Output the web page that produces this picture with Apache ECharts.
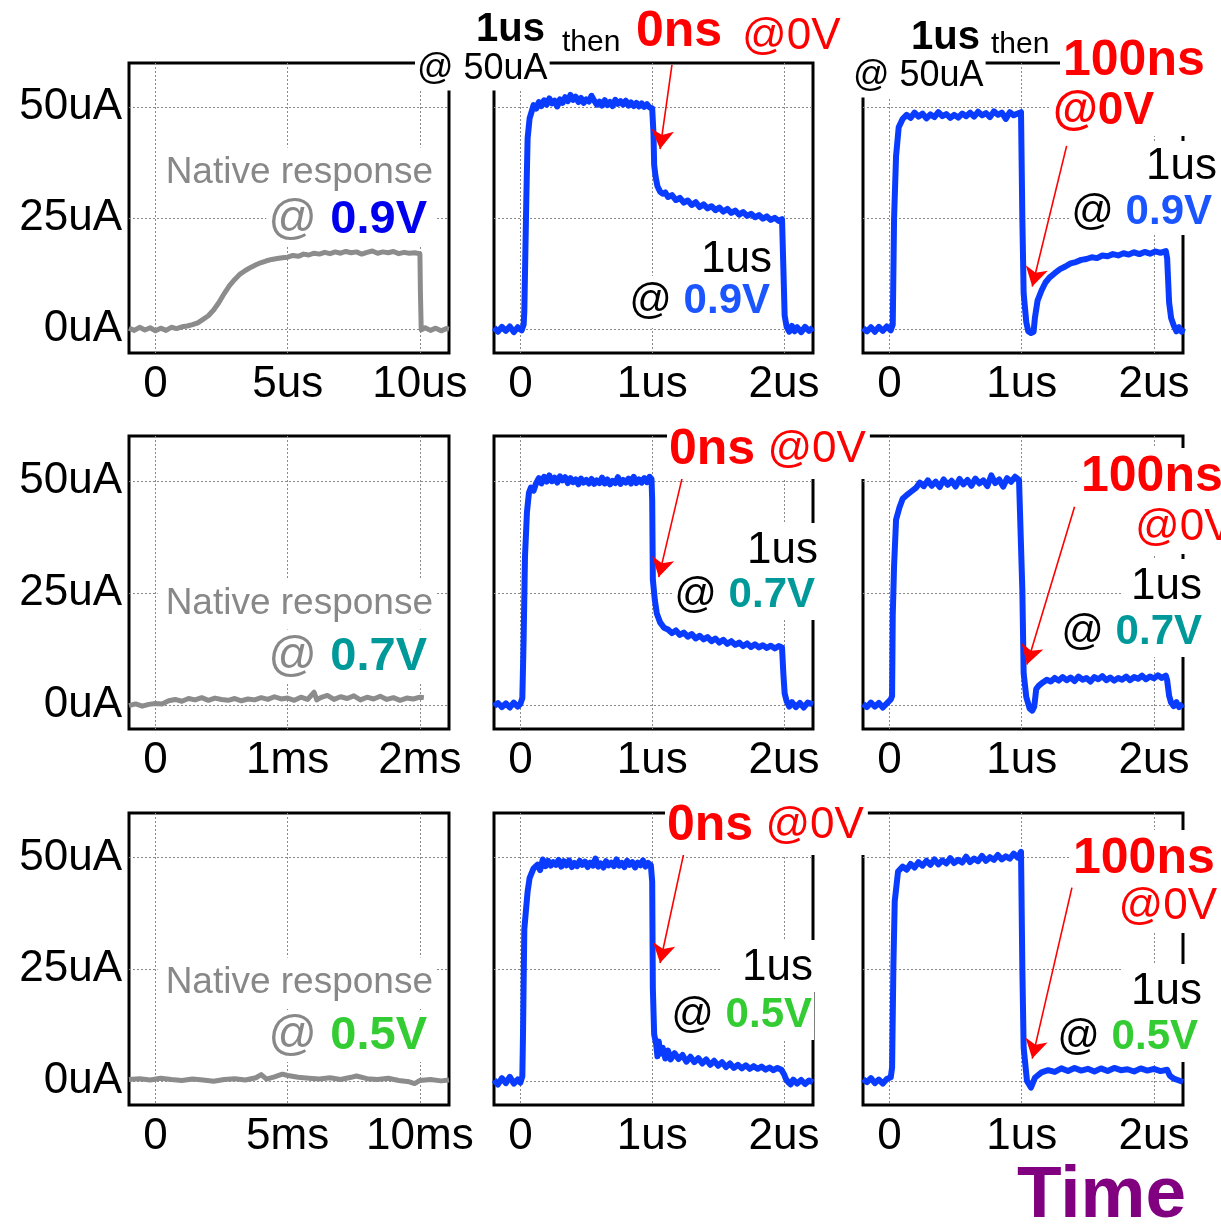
<!DOCTYPE html>
<html>
<head>
<meta charset="utf-8">
<script src="https://cdn.jsdelivr.net/npm/echarts@6/dist/echarts.min.js"></script>
<style>
  html, body { margin: 0; padding: 0; background: #fff; }
  #chart { width: 1221px; height: 1229px; }
</style>
</head>
<body>
<div id="chart"></div>
<script>
// ---------- tick values and labels ----------
const currentTicks = [0, 25, 50];
const currentTickLabels = ['0uA', '25uA', '50uA'];
const pulseTicks = [0, 1, 2];
const pulseTickLabels = ['0', '1us', '2us'];
const native09Ticks = [0, 5, 10];
const native09TickLabels = ['0', '5us', '10us'];
const native07Ticks = [0, 1, 2];
const native07TickLabels = ['0', '1ms', '2ms'];
const native05Ticks = [0, 5, 10];
const native05TickLabels = ['0', '5ms', '10ms'];

// ---------- measured current traces, [time, current uA] ----------
// native response at 0.9V (time in us)
const native09 = [[-1.0,0.2],[-0.8,-0.3],[-0.6,0.4],[-0.4,-0.2],[-0.2,0.3],[0,-0.4],[0.2,0.2],[0.4,-0.3],[0.6,0.4],[0.8,0.1],
  [1.0,0.5],[1.2,0.7],[1.4,1.0],[1.6,1.4],[1.8,2.2],[2.0,3.0],[2.2,4.3],[2.4,6.0],[2.6,8.0],[2.8,9.8],[3.0,11.2],[3.2,12.4],
  [3.4,13.2],[3.6,13.9],[3.8,14.5],[4.0,15.0],[4.2,15.4],[4.4,15.7],[4.6,15.9],[4.8,16.1],[5.0,16.2],[5.2,16.6],[5.4,16.4],
  [5.6,16.9],[5.8,16.7],[6.0,17.1],[6.2,16.9],[6.4,17.3],[6.6,17.0],[6.8,17.4],[7.0,17.1],[7.2,17.5],[7.4,17.2],[7.6,17.4],
  [7.8,16.9],[8.0,17.3],[8.2,17.6],[8.4,17.1],[8.6,17.4],[8.8,17.2],[9.0,17.5],[9.2,17.0],[9.4,17.3],[9.6,17.1],[9.8,17.2],
  [10.0,17.0],[10.02,8.0],[10.05,-0.2],[10.2,0.3],[10.4,-0.3],[10.6,0.2],[10.8,-0.4],[11.0,0.1],[11.1,0.0]];

// 1us @50uA, then 0ns @0V, then 1us @0.9V
const zero09 = [[-0.2,0.3],[-0.17,-0.6],[-0.14,0.5],[-0.11,-0.4],[-0.08,0.6],[-0.05,-0.7],[-0.02,0.4],[0.01,-0.3],[0.025,1.0],
  [0.03,4],[0.045,29],[0.055,43],[0.07,47.5],[0.085,49],[0.1,50.5],[0.12,49.7],[0.14,51.2],[0.16,50.3],[0.18,51.6],[0.2,50.6],
  [0.22,52.0],[0.24,50.9],[0.26,51.5],[0.28,50.2],[0.3,51.8],[0.32,51.0],[0.34,52.3],[0.36,51.4],[0.38,52.8],[0.4,51.7],
  [0.42,52.4],[0.44,51.2],[0.46,52.1],[0.48,51.0],[0.5,51.8],[0.52,51.3],[0.54,52.6],[0.56,51.5],[0.58,50.6],[0.6,51.3],
  [0.62,50.4],[0.64,51.6],[0.66,50.5],[0.68,51.2],[0.7,50.3],[0.72,51.7],[0.74,50.8],[0.76,51.4],[0.78,50.6],[0.8,51.5],
  [0.82,50.4],[0.84,51.1],[0.86,50.3],[0.88,51.0],[0.9,50.2],[0.92,50.9],[0.94,50.1],[0.96,50.7],[0.98,50.0],[1.0,49.8],
  [1.01,44],[1.015,37],[1.025,34.5],[1.04,32.2],[1.06,31.0],[1.08,30.5],[1.1,30.8],[1.12,29.8],[1.15,30.2],[1.18,29.1],
  [1.21,29.6],[1.24,28.5],[1.27,29.0],[1.3,28.0],[1.33,28.6],[1.36,27.5],[1.39,28.1],[1.42,27.2],[1.45,27.7],[1.48,26.8],
  [1.51,27.4],[1.54,26.5],[1.57,27.1],[1.6,26.2],[1.63,26.7],[1.66,25.8],[1.69,26.4],[1.72,25.5],[1.75,26.0],[1.78,25.2],
  [1.81,25.7],[1.84,24.9],[1.87,25.4],[1.9,24.6],[1.93,25.1],[1.96,24.4],[1.985,24.8],[1.995,14],[2.005,3],[2.02,0.5],
  [2.04,-0.6],[2.06,0.7],[2.08,-0.5],[2.1,0.4],[2.13,-0.7],[2.16,0.5],[2.19,-0.4],[2.22,0.3]];

// 1us @50uA, then 100ns @0V, then 1us @0.9V
const rest09 = [[-0.2,0.2],[-0.17,-0.5],[-0.14,0.4],[-0.11,-0.6],[-0.08,0.5],[-0.05,-0.4],[-0.02,0.6],[0.01,-0.3],[0.025,1.0],
  [0.035,25],[0.05,39],[0.07,45.5],[0.1,47.4],[0.13,48.3],[0.16,47.6],[0.19,48.8],[0.22,47.9],[0.25,48.6],[0.28,47.5],
  [0.31,48.4],[0.34,47.8],[0.37,48.9],[0.4,48.0],[0.43,48.5],[0.46,47.6],[0.49,48.3],[0.52,47.7],[0.55,48.6],[0.58,48.0],
  [0.61,48.8],[0.64,47.9],[0.67,49.0],[0.7,48.2],[0.73,48.7],[0.76,47.8],[0.79,49.1],[0.82,48.3],[0.85,48.8],[0.88,47.4],
  [0.91,48.9],[0.94,48.2],[0.97,48.6],[0.995,48.9],[1.005,25],[1.015,8],[1.035,1.5],[1.05,-0.5],[1.07,-0.9],[1.09,-0.6],
  [1.1,2.5],[1.12,6.4],[1.15,8.7],[1.18,10.5],[1.21,11.6],[1.25,12.6],[1.29,13.5],[1.33,14.1],[1.37,14.8],[1.41,15.1],
  [1.45,15.6],[1.49,15.8],[1.53,16.2],[1.57,16.0],[1.61,16.6],[1.65,16.4],[1.69,16.9],[1.73,16.6],[1.77,17.1],[1.81,16.8],
  [1.85,17.3],[1.89,16.9],[1.93,17.4],[1.97,17.0],[2.01,17.5],[2.05,17.2],[2.09,17.6],[2.1,16],[2.115,6],[2.13,2.5],
  [2.15,0.8],[2.17,-0.5],[2.19,0.4],[2.21,-0.6],[2.22,0.2]];

// native response at 0.7V (time in ms)
const native07 = [[-0.2,-0.2],[-0.15,0.2],[-0.1,-0.3],[-0.05,0.1],[0,0.3],[0.05,0.2],[0.1,0.9],[0.15,1.2],[0.2,0.8],[0.25,1.4],
  [0.3,1.1],[0.35,1.6],[0.4,1.0],[0.45,1.5],[0.5,1.2],[0.55,1.0],[0.6,1.4],[0.65,0.9],[0.7,1.3],[0.75,1.1],[0.8,1.6],
  [0.85,1.2],[0.9,1.8],[0.95,1.3],[1.0,1.5],[1.05,1.0],[1.1,1.7],[1.15,1.2],[1.2,2.8],[1.22,1.1],[1.25,1.6],[1.3,2.1],
  [1.35,1.2],[1.4,1.8],[1.45,1.4],[1.5,2.0],[1.55,1.1],[1.6,1.7],[1.65,1.3],[1.7,1.9],[1.75,1.2],[1.8,1.6],[1.85,1.0],
  [1.9,1.5],[1.95,1.3],[2.0,1.7],[2.03,1.6]];

// 1us @50uA, then 0ns @0V, then 1us @0.7V
const zero07 = [[-0.2,-0.3],[-0.17,0.4],[-0.14,-0.5],[-0.11,0.3],[-0.08,-0.6],[-0.05,0.5],[-0.02,-0.4],[0.0,0.2],[0.015,1.5],
  [0.025,15],[0.035,33],[0.05,43],[0.065,47.3],[0.08,48.5],[0.1,47.8],[0.12,49.5],[0.14,50.6],[0.16,49.4],[0.18,50.9],
  [0.2,49.8],[0.22,51.2],[0.24,49.9],[0.26,50.7],[0.28,49.6],[0.3,51.0],[0.32,50.1],[0.34,50.8],[0.36,49.5],[0.38,50.6],
  [0.4,49.7],[0.42,50.3],[0.44,49.2],[0.46,50.5],[0.48,49.6],[0.5,50.2],[0.52,49.4],[0.54,50.4],[0.56,49.3],[0.58,50.1],
  [0.6,49.5],[0.62,50.7],[0.64,49.4],[0.66,50.3],[0.68,49.2],[0.7,50.0],[0.72,49.5],[0.74,50.8],[0.76,49.3],[0.78,50.2],
  [0.8,49.6],[0.82,50.5],[0.84,49.4],[0.86,50.9],[0.88,49.5],[0.9,50.3],[0.92,49.6],[0.94,50.6],[0.96,49.7],[0.98,50.9],
  [0.995,50.4],[1.0,45.7],[1.005,28],[1.02,23.4],[1.035,20.4],[1.06,18.4],[1.09,17.2],[1.12,16.8],[1.15,16.0],[1.18,16.6],
  [1.21,15.6],[1.24,16.1],[1.27,15.2],[1.3,15.8],[1.33,14.8],[1.36,15.4],[1.39,14.6],[1.42,15.1],[1.45,14.2],[1.48,14.8],
  [1.51,13.9],[1.54,14.5],[1.57,13.6],[1.6,14.2],[1.63,13.4],[1.66,13.9],[1.69,13.1],[1.72,13.7],[1.75,12.9],[1.78,13.5],
  [1.81,12.8],[1.84,13.3],[1.87,12.7],[1.9,13.2],[1.93,12.6],[1.96,13.1],[1.985,12.8],[1.995,7],[2.005,2.5],[2.02,0.8],
  [2.04,-0.4],[2.06,0.6],[2.09,-0.5],[2.12,0.4],[2.15,-0.6],[2.18,0.5],[2.22,0.1]];

// 1us @50uA, then 100ns @0V, then 1us @0.7V
const rest07 = [[-0.2,0.2],[-0.17,-0.5],[-0.14,0.5],[-0.11,-0.4],[-0.08,0.4],[-0.05,-0.6],[-0.02,0.3],[0.01,1.2],[0.02,2],
  [0.025,20],[0.035,31],[0.05,41.3],[0.075,44.0],[0.1,46.0],[0.13,46.8],[0.16,47.5],[0.2,48.4],[0.23,49.6],[0.26,48.8],
  [0.29,50.1],[0.32,48.9],[0.35,49.8],[0.38,48.6],[0.41,50.3],[0.44,49.1],[0.47,50.0],[0.5,48.7],[0.53,50.4],[0.56,49.2],
  [0.59,50.2],[0.62,48.9],[0.65,50.5],[0.68,49.4],[0.71,50.1],[0.74,48.8],[0.77,51.2],[0.8,49.5],[0.83,50.3],[0.86,48.7],
  [0.89,50.6],[0.92,49.8],[0.95,50.9],[0.98,50.2],[0.99,50.6],[1.005,25.6],[1.015,7],[1.035,1.7],[1.06,-0.8],[1.08,-1.3],
  [1.095,-0.4],[1.11,3.5],[1.13,4.3],[1.16,5.0],[1.19,5.6],[1.22,5.2],[1.25,6.0],[1.28,5.4],[1.31,6.2],[1.34,5.5],[1.37,6.1],
  [1.4,5.3],[1.43,6.3],[1.46,5.6],[1.49,6.0],[1.52,5.2],[1.55,6.2],[1.58,5.7],[1.61,6.4],[1.64,5.5],[1.67,6.1],[1.7,5.4],
  [1.73,6.0],[1.76,5.6],[1.79,6.3],[1.82,5.5],[1.85,6.2],[1.88,5.8],[1.91,6.5],[1.94,5.7],[1.97,6.3],[2.0,5.9],[2.03,6.6],
  [2.06,6.0],[2.09,6.5],[2.1,5.5],[2.115,2],[2.13,0.5],[2.15,-0.3],[2.17,0.6],[2.19,-0.5],[2.22,0.2]];

// native response at 0.5V (time in ms)
const native05 = [[-1.0,0.3],[-0.6,0.5],[-0.2,0.2],[0.2,0.6],[0.6,0.3],[1.0,0.1],[1.4,0.4],[1.8,0.2],[2.2,-0.1],[2.6,0.3],
  [3.0,0.5],[3.4,0.2],[3.8,0.7],[4.0,1.4],[4.2,0.4],[4.5,0.9],[4.8,1.5],[5.0,1.2],[5.4,0.8],[5.8,0.6],[6.2,0.4],[6.6,0.7],
  [7.0,0.3],[7.4,0.8],[7.6,1.1],[8.0,0.5],[8.4,0.3],[8.8,0.6],[9.2,0.1],[9.6,-0.2],[9.8,-0.6],[10.0,0.1],[10.4,0.3],
  [10.8,0.0],[11.1,0.2]];

// 1us @50uA, then 0ns @0V, then 1us @0.5V
const zero05 = [[-0.2,0.2],[-0.17,-0.8],[-0.14,0.6],[-0.11,-0.5],[-0.08,0.9],[-0.05,-0.6],[-0.02,0.3],[0.0,-0.4],[0.015,1],
  [0.02,10.4],[0.03,34],[0.055,42.4],[0.07,45.4],[0.1,47.6],[0.13,48.4],[0.15,47.2],[0.17,49.6],[0.19,48.1],[0.21,49.3],
  [0.23,48.2],[0.25,49.0],[0.27,48.4],[0.29,49.5],[0.31,48.0],[0.33,49.2],[0.35,48.3],[0.37,49.4],[0.39,47.9],[0.41,48.8],
  [0.43,48.1],[0.45,49.3],[0.47,48.4],[0.49,49.1],[0.51,47.9],[0.53,48.9],[0.55,48.2],[0.57,49.8],[0.59,48.0],[0.61,48.7],
  [0.63,47.8],[0.65,49.2],[0.67,48.3],[0.69,48.9],[0.71,48.1],[0.73,49.6],[0.75,48.2],[0.77,48.8],[0.79,47.9],[0.81,49.3],
  [0.83,48.4],[0.85,49.0],[0.87,47.8],[0.89,48.9],[0.91,48.3],[0.93,49.4],[0.95,48.0],[0.97,48.8],[0.99,48.3],[1.0,44.6],
  [1.005,20.8],[1.015,10.4],[1.03,8.2],[1.04,5.5],[1.05,8.8],[1.06,6.1],[1.08,7.4],[1.1,5.0],[1.12,6.8],[1.14,4.8],
  [1.17,6.2],[1.2,4.9],[1.23,5.8],[1.26,4.3],[1.29,5.4],[1.32,4.2],[1.35,5.1],[1.38,3.9],[1.41,4.8],[1.44,3.6],[1.47,4.5],
  [1.5,3.4],[1.53,4.2],[1.56,3.1],[1.59,3.9],[1.62,2.9],[1.65,3.6],[1.68,2.8],[1.71,3.5],[1.74,2.7],[1.77,3.3],[1.8,2.7],
  [1.83,3.2],[1.86,2.5],[1.89,3.0],[1.92,2.4],[1.95,2.9],[1.98,2.5],[2.0,1.5],[2.015,0.4],[2.03,-0.2],[2.05,-0.8],
  [2.07,0.3],[2.1,-0.6],[2.13,0.2],[2.16,-0.7],[2.19,0.1],[2.22,-0.3]];

// 1us @50uA, then 100ns @0V, then 1us @0.5V
const rest05 = [[-0.2,0.4],[-0.17,-0.3],[-0.14,0.6],[-0.11,-0.5],[-0.08,0.3],[-0.05,-0.6],[-0.02,0.4],[0.01,0.8],[0.02,3],
  [0.03,26],[0.04,40.2],[0.065,46.9],[0.1,48.0],[0.13,47.3],[0.16,48.6],[0.19,47.8],[0.22,49.0],[0.25,48.2],[0.28,49.3],
  [0.31,48.4],[0.34,49.6],[0.37,48.5],[0.4,49.4],[0.43,48.7],[0.46,49.9],[0.49,48.8],[0.52,49.5],[0.55,48.9],[0.58,50.2],
  [0.61,49.0],[0.64,49.8],[0.67,49.2],[0.7,50.4],[0.73,49.3],[0.76,50.1],[0.79,49.5],[0.82,50.6],[0.85,49.6],[0.88,50.3],
  [0.91,49.8],[0.94,50.9],[0.97,50.0],[0.995,51.3],[1.005,25.3],[1.015,7.4],[1.04,0],[1.07,-1.5],[1.1,0.7],[1.15,1.9],
  [1.2,2.4],[1.25,2.0],[1.3,2.8],[1.35,2.2],[1.4,2.9],[1.45,2.3],[1.5,2.7],[1.55,2.1],[1.6,2.8],[1.65,2.2],[1.7,2.9],
  [1.75,2.4],[1.8,2.6],[1.85,2.1],[1.9,2.8],[1.95,2.3],[2.0,2.7],[2.05,2.2],[2.1,2.5],[2.12,1.2],[2.15,0.5],[2.18,0.2],
  [2.22,-0.2]];

// red pointer arrows, [start, tip] in each panel's time/current units
const arrowZero09 = [[1.15, 59.6], [1.06, 40.6]];
const arrowRest09 = [[1.34, 41.3], [1.08, 9.6]];
const arrowZero07 = [[1.23, 51.0], [1.05, 28.5]];
const arrowRest07 = [[1.40, 44.2], [1.04, 9.0]];
const arrowZero05 = [[1.24, 51.0], [1.06, 26.4]];
const arrowRest05 = [[1.38, 43.3], [1.08, 5.0]];

// ---------- styling ----------
const FONT = '"Liberation Sans", Arial, Helvetica, sans-serif';
const TRACE_BLUE = '#0a3cff';
const TRACE_GREY = '#8c8c8c';
const RED = '#ff0000';
const LABEL_BLUE = '#1a55ff';
const TEAL = '#009999';
const GREEN = '#33cc33';
const TEXT_GREY = '#888888';

const cols = [{ left: 129, width: 320 }, { left: 494, width: 319 }, { left: 863, width: 320 }];
const rows = [{ top: 63, height: 290 }, { top: 436, height: 293 }, { top: 813, height: 292 }];

const panels = [
  { data: native09, color: TRACE_GREY, xMin: -1, xMax: 11.1, ticks: native09Ticks, labels: native09TickLabels },
  { data: zero09, color: TRACE_BLUE, xMin: -0.2, xMax: 2.22, ticks: pulseTicks, labels: pulseTickLabels, arrow: arrowZero09 },
  { data: rest09, color: TRACE_BLUE, xMin: -0.2, xMax: 2.22, ticks: pulseTicks, labels: pulseTickLabels, arrow: arrowRest09 },
  { data: native07, color: TRACE_GREY, xMin: -0.2, xMax: 2.22, ticks: native07Ticks, labels: native07TickLabels },
  { data: zero07, color: TRACE_BLUE, xMin: -0.2, xMax: 2.22, ticks: pulseTicks, labels: pulseTickLabels, arrow: arrowZero07 },
  { data: rest07, color: TRACE_BLUE, xMin: -0.2, xMax: 2.22, ticks: pulseTicks, labels: pulseTickLabels, arrow: arrowRest07 },
  { data: native05, color: TRACE_GREY, xMin: -1, xMax: 11.1, ticks: native05Ticks, labels: native05TickLabels },
  { data: zero05, color: TRACE_BLUE, xMin: -0.2, xMax: 2.22, ticks: pulseTicks, labels: pulseTickLabels, arrow: arrowZero05 },
  { data: rest05, color: TRACE_BLUE, xMin: -0.2, xMax: 2.22, ticks: pulseTicks, labels: pulseTickLabels, arrow: arrowRest05 }
];

function labelFor(ticks, labels) {
  return function (v) {
    const i = ticks.findIndex(t => Math.abs(t - v) < 1e-9);
    return i >= 0 ? labels[i] : '';
  };
}

const gridLine = { show: true, lineStyle: { color: '#8a8a8a', width: 1, type: [2, 2] } };

const grid = [], xAxis = [], yAxis = [], series = [];
panels.forEach((p, i) => {
  const c = cols[i % 3], r = rows[Math.floor(i / 3)];
  grid.push({ left: c.left, width: c.width, top: r.top, height: r.height,
    show: true, borderColor: '#000', borderWidth: 3, backgroundColor: 'transparent' });
  xAxis.push({
    type: 'value', gridIndex: i, min: p.xMin, max: p.xMax,
    axisLine: { show: false },
    axisTick: { show: false, customValues: p.ticks },
    axisLabel: { customValues: p.ticks, formatter: labelFor(p.ticks, p.labels),
      fontSize: 44, fontFamily: FONT, color: '#000', margin: 10 },
    splitLine: gridLine
  });
  yAxis.push({
    type: 'value', gridIndex: i, min: -5.4, max: 60,
    axisLine: { show: false },
    axisTick: { show: false, customValues: currentTicks },
    axisLabel: { show: i % 3 === 0, customValues: currentTicks,
      formatter: labelFor(currentTicks, currentTickLabels),
      fontSize: 44, fontFamily: FONT, color: '#000', margin: 7 },
    splitLine: gridLine
  });
  const blue = p.color === TRACE_BLUE;
  const s = {
    type: 'line', xAxisIndex: i, yAxisIndex: i, data: p.data,
    showSymbol: false, symbol: 'none', clip: false, animation: false,
    lineStyle: { color: p.color, width: blue ? 6 : 5, join: 'round' }, itemStyle: { color: p.color }
  };
  if (p.arrow) {
    s.markLine = {
      silent: true, animation: false,
      symbol: ['none', 'arrow'], symbolSize: [17, 19],
      lineStyle: { color: RED, width: 1.6, type: 'solid' },
      itemStyle: { color: RED },
      label: { show: false },
      data: [[{ coord: p.arrow[0] }, { coord: p.arrow[1] }]]
    };
  }
  series.push(s);
});

// ---------- text annotations ----------
const rich = {
  g: { fill: TEXT_GREY, fontSize: 48, fontFamily: FONT },
  k: { fill: '#000', fontSize: 42, fontFamily: FONT },
  v9: { fill: '#0000ee', fontSize: 47, fontWeight: 'bold', fontFamily: FONT },
  v7: { fill: TEAL, fontSize: 47, fontWeight: 'bold', fontFamily: FONT },
  v5: { fill: GREEN, fontSize: 47, fontWeight: 'bold', fontFamily: FONT },
  b9: { fill: LABEL_BLUE, fontSize: 42, fontWeight: 'bold', fontFamily: FONT },
  b7: { fill: TEAL, fontSize: 42, fontWeight: 'bold', fontFamily: FONT },
  b5: { fill: GREEN, fontSize: 42, fontWeight: 'bold', fontFamily: FONT },
  rb: { fill: RED, fontSize: 50, fontWeight: 'bold', fontFamily: FONT },
  rr: { fill: RED, fontSize: 44, fontFamily: FONT }
};

function note(x, y, text, opts) {
  opts = opts || {};
  const style = {
    text: text, x: 0, y: 0,
    align: opts.align || 'left', verticalAlign: 'middle',
    fontFamily: FONT, fontSize: opts.size || 44,
    fontWeight: opts.bold ? 'bold' : 'normal',
    fill: opts.color || '#000', rich: rich
  };
  if (opts.pad) { style.backgroundColor = '#fff'; style.padding = opts.pad; }
  return { type: 'text', x: x, y: y, z: 10, silent: true, style: style };
}

const notes = [
  // native responses
  note(437, 173, 'Native response', { align: 'right', size: 37, color: TEXT_GREY, pad: [7, 4, 7, 8] }),
  note(435, 220, '{g|@ }{v9|0.9V}', { align: 'right', pad: [2, 8, 2, 2] }),
  note(437, 604, 'Native response', { align: 'right', size: 37, color: TEXT_GREY, pad: [7, 4, 7, 8] }),
  note(435, 657, '{g|@ }{v7|0.7V}', { align: 'right', pad: [2, 8, 2, 2] }),
  note(437, 983, 'Native response', { align: 'right', size: 37, color: TEXT_GREY, pad: [7, 4, 7, 8] }),
  note(435, 1036, '{g|@ }{v5|0.5V}', { align: 'right', pad: [2, 8, 2, 2] }),

  // top row headings
  note(476, 30, '1us', { size: 40, bold: true }),
  note(562, 43, 'then', { size: 30 }),
  note(636, 32, '0ns', { size: 50, bold: true, color: RED }),
  note(742, 37, '@0V', { size: 44, color: RED }),
  note(415, 70, '@ 50uA', { size: 36, pad: [2, 2, 3, 2] }),
  note(911, 38, '1us', { size: 40, bold: true }),
  note(991, 45, 'then', { size: 30 }),
  note(851, 77, '@ 50uA', { size: 36, pad: [2, 2, 3, 2] }),
  note(1060, 60, '100ns', { size: 50, bold: true, color: RED, pad: [5, 30, 2, 3] }),
  note(1051, 111, '@0V', { size: 46, bold: true, color: RED, pad: [2, 80, 2, 2] }),

  // row 1 pulse responses
  note(774, 258, '1us', { align: 'right', pad: [5, 2, 2, 30] }),
  note(772, 302, '{k|@ }{b9|0.9V}', { align: 'right', pad: [4, 2, 6, 2] }),
  note(1221, 166, '1us', { align: 'right', pad: [4, 4, 2, 8] }),
  note(1220, 212, '{k|@ }{b9|0.9V}', { align: 'right', pad: [2, 8, 2, 2] }),

  // row 2
  note(667, 451, '{rb|0ns} {rr|@0V}', { pad: [2, 4, 4, 2] }),
  note(820, 549, '1us', { align: 'right', pad: [6, 2, 2, 20] }),
  note(817, 596, '{k|@ }{b7|0.7V}', { align: 'right', pad: [2, 2, 4, 2] }),
  note(1078, 476, '100ns', { size: 50, bold: true, color: RED, pad: [4, 20, 2, 3] }),
  note(1132, 529, '@0V', { color: RED, pad: [2, 20, 4, 3] }),
  note(1222, 585, '1us', { align: 'right', pad: [6, 20, 2, 8] }),
  note(1222, 633, '{k|@ }{b7|0.7V}', { align: 'right', pad: [2, 20, 4, 2] }),

  // row 3
  note(665, 827, '{rb|0ns} {rr|@0V}', { pad: [2, 4, 4, 2] }),
  note(815, 966, '1us', { align: 'right', pad: [6, 2, 2, 20] }),
  note(814, 1016, '{k|@ }{b5|0.5V}', { align: 'right', pad: [2, 2, 4, 2] }),
  note(1070, 858, '100ns', { size: 50, bold: true, color: RED, pad: [4, 20, 2, 3] }),
  note(1221, 908, '@0V', { align: 'right', color: RED, pad: [2, 4, 4, 20] }),
  note(1222, 990, '1us', { align: 'right', pad: [6, 20, 2, 8] }),
  note(1218, 1038, '{k|@ }{b5|0.5V}', { align: 'right', pad: [2, 20, 4, 2] }),

  // shared time caption
  note(1186, 1197, 'Time', { align: 'right', size: 73, bold: true, color: '#800080' })
];

const chart = echarts.init(document.getElementById('chart'), null, { renderer: 'canvas' });
chart.setOption({
  animation: false,
  backgroundColor: '#fff',
  grid: grid,
  xAxis: xAxis,
  yAxis: yAxis,
  series: series,
  graphic: { elements: notes }
});
</script>
</body>
</html>
